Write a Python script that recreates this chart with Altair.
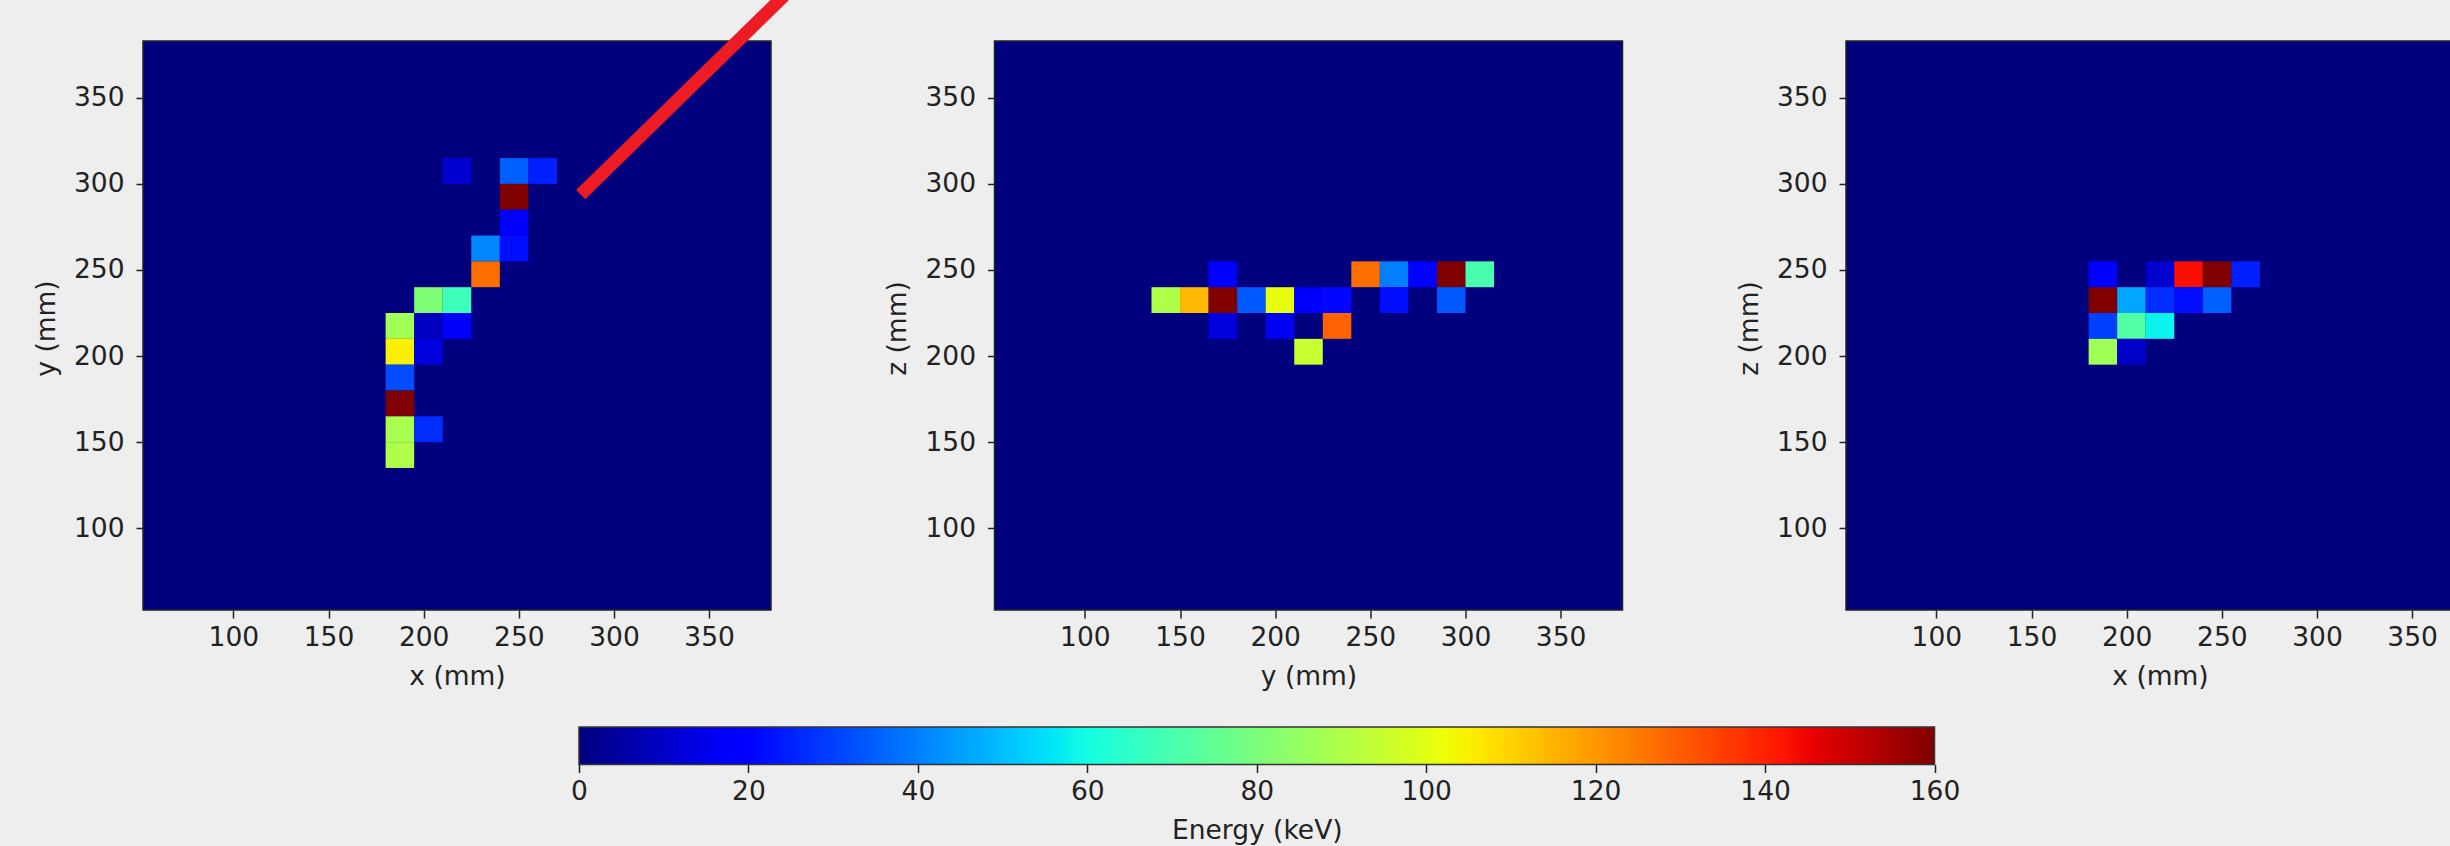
import altair as alt
import pandas as pd

# ---- jet colour map (value stops in keV, colours) ----
JET_VALUES = [0, 17.6, 20, 54.4, 56, 60, 102.4, 104, 105.6, 142.4, 145.6, 160]
JET_COLORS = ["#00007f", "#0000ff", "#0000ff", "#00dbff", "#00e6f7", "#15ffe2",
              "#eeff08", "#f7f600", "#ffec00", "#ff1300", "#e80000", "#800000"]
E_MAX = 160
ENERGY_TICKS = [0, 20, 40, 60, 80, 100, 120, 140, 160]

# ---- voxel size and axes ----
BIN = 15
POS_DOMAIN_H = [52.5, 382.5]
POS_DOMAIN_V = [52.5, 383]
POS_TICKS = [100, 150, 200, 250, 300, 350]

# ---- panel 1: x-y projection (bin start x, bin start y, energy keV) ----
p1_x = [210, 240, 255, 240, 240, 225, 240, 225, 195, 210, 180, 195, 210, 180, 195, 180, 180, 180, 195, 180]
p1_y = [300, 300, 300, 285, 270, 255, 255, 240, 225, 225, 210, 210, 210, 195, 195, 180, 165, 150, 150, 135]
p1_e = [11, 35, 25, 160, 19, 41, 22, 127, 81, 68, 87, 9, 17, 105, 13, 32, 160, 89, 27, 90]

# ---- panel 2: y-z projection ----
p2_y = [165, 240, 255, 270, 285, 300, 135, 150, 165, 180, 195, 210, 225, 255, 285, 165, 195, 225, 210]
p2_z = [240, 240, 240, 240, 240, 240, 225, 225, 225, 225, 225, 225, 225, 225, 225, 210, 210, 210, 195]
p2_e = [19, 127, 40, 19, 160, 70, 90, 114, 160, 34, 101, 20, 21, 22, 34, 13, 16, 129, 95]

# ---- panel 3: x-z projection ----
p3_x = [180, 210, 225, 240, 255, 180, 195, 210, 225, 240, 180, 195, 210, 180, 195]
p3_z = [240, 240, 240, 240, 240, 225, 225, 225, 225, 225, 210, 210, 210, 195, 195]
p3_e = [19, 11, 143, 160, 25, 160, 46, 27, 22, 35, 30, 72, 58, 87, 10]

# ---- fitted track direction drawn on panel 1 (x, y in mm) ----
track_x = [282.5, 403]
track_y = [293.8, 424]

TEXT = "#222222"
FONT = "DejaVu Sans"
FS = 26.5

color_scale = alt.Scale(domain=JET_VALUES, range=JET_COLORS, interpolate="rgb")


def panel(h, v, e, htitle, vtitle, with_track=False):
    df = pd.DataFrame({"h": h, "v": v, "e": e})
    rects = (
        alt.Chart(df)
        .transform_calculate(h2=f"datum.h + {BIN}", v2=f"datum.v + {BIN}")
        .mark_rect()
        .encode(
            x=alt.X("h:Q", scale=alt.Scale(domain=POS_DOMAIN_H, nice=False, zero=False),
                    axis=alt.Axis(values=POS_TICKS, title=htitle)),
            x2="h2:Q",
            y=alt.Y("v:Q", scale=alt.Scale(domain=POS_DOMAIN_V, nice=False, zero=False),
                    axis=alt.Axis(values=POS_TICKS, title=vtitle)),
            y2="v2:Q",
            color=alt.Color("e:Q", scale=color_scale, legend=None),
        )
    )
    layers = [rects]
    if with_track:
        tdf = pd.DataFrame({"h": track_x, "v": track_y})
        line = alt.Chart(tdf).mark_line(color="#ed1c24", strokeWidth=13, strokeCap="butt").encode(
            x="h:Q", y="v:Q")
        layers.append(line)
    return alt.layer(*layers).properties(
        width=628, height=569,
        view=alt.ViewBackground(fill="#00007f", stroke="#222222", strokeWidth=1.5),
    )


p1 = panel(p1_x, p1_y, p1_e, "x (mm)", "y (mm)", with_track=True)
p2 = panel(p2_y, p2_z, p2_e, "y (mm)", "z (mm)")
p3 = panel(p3_x, p3_z, p3_e, "x (mm)", "z (mm)")

# ---- colour bar ----
stops = [alt.GradientStop(color=c, offset=v / E_MAX) for v, c in zip(JET_VALUES, JET_COLORS)]
cb_df = pd.DataFrame({"lo": [ENERGY_TICKS[0]], "hi": [ENERGY_TICKS[-1]]})
colorbar = (
    alt.Chart(cb_df)
    .mark_rect(
        fill=alt.Gradient(gradient="linear", stops=stops, x1=0, x2=1, y1=0, y2=0),
        stroke="#333333", strokeWidth=1.5,
    )
    .encode(
        x=alt.X("lo:Q", scale=alt.Scale(domain=[0, E_MAX], range=[436, 1791.5], nice=False, zero=False),
                axis=alt.Axis(values=ENERGY_TICKS, title="Energy (keV)")),
        x2="hi:Q",
        y=alt.value(0),
        y2=alt.value(37.5),
    )
    .properties(width=1791.5, height=37.5,
                view=alt.ViewBackground(fill="transparent", stroke="transparent"))
)

top = alt.hconcat(p1, p2, p3, spacing=223.5, bounds="flush")
chart = (
    alt.vconcat(top, colorbar, spacing=686, bounds="flush")
    .properties(
        autosize=alt.AutoSizeParams(type="none"),
        padding={"left": 143, "top": 41, "right": 2307, "bottom": 805},
        background="#eeeeee",
    )
    .configure_axis(
        labelFont=FONT, titleFont=FONT, labelFontSize=FS, titleFontSize=FS,
        titleFontWeight="normal", labelColor=TEXT, titleColor=TEXT,
        tickColor=TEXT, tickWidth=1.5, domain=False, grid=False,
        labelFlush=False, labelOverlap=False,
    )
    .configure_axisX(tickSize=8, labelPadding=6, titleBaseline="middle", titleY=66)
    .configure_axisY(tickSize=7, labelPadding=12, titleBaseline="middle", titleX=-97, titleY=287)
)

chart.save("out.html", embed_options={"renderer": "svg", "actions": False})
